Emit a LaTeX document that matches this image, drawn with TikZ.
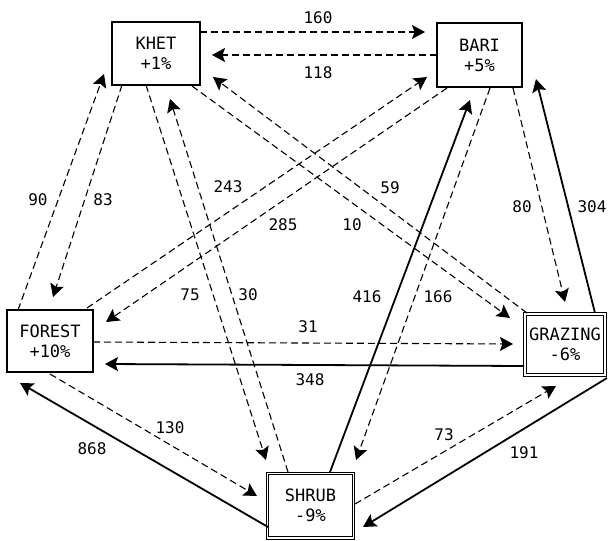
\documentclass[tikz,border=0pt]{standalone}
\usepackage{fontspec}
\newfontfamily\plotfont{DejaVu Sans Mono}
\usetikzlibrary{arrows.meta}
\tikzset{
  box/.style={draw, line width=1.5pt, rectangle, align=center, inner sep=0pt,
    font=\plotfont\fontsize{17}{20}\selectfont},
  dbox/.style={draw, double, double distance=1.6pt, line width=0.9pt, rectangle,
    align=center, inner sep=0pt, font=\plotfont\fontsize{17}{20}\selectfont},
  tip/.style={-{Stealth[length=13pt,width=14pt,inset=2.5pt]}},
  dl/.style={tip, line width=1.1pt, dash pattern=on 7pt off 4pt},
  sl/.style={tip, line width=1.8pt},
  lab/.style={inner sep=0pt, font=\plotfont\fontsize{16}{18}\selectfont}
}
\begin{document}
\begin{tikzpicture}[x=1pt,y=-1pt]
\useasboundingbox (0,0) rectangle (608,541);
% nodes
\node[box, minimum width=88pt, minimum height=63pt] (khet) at (156,53.5) {KHET\\+1\%};
\node[box, minimum width=85pt, minimum height=64pt] (bari) at (479.5,55) {BARI\\+5\%};
\node[box, minimum width=86pt, minimum height=62pt] (forest) at (50,341) {FOREST\\+10\%};
\node[dbox, minimum width=80pt, minimum height=61pt] (grazing) at (565,344.5) {GRAZING\\-6\%};
\node[dbox, minimum width=86pt, minimum height=64.5pt] (shrub) at (310.5,505.75) {SHRUB\\-9\%};
% KHET - BARI
\draw[dl] ([shift={(44,-21.5)}]khet.center) -- ([shift={(-54.5,-23)}]bari.center);
\draw[dl] ([shift={(-42.5,0)}]bari.center) -- ([shift={(56,1.5)}]khet.center);
% KHET - FOREST
\draw[dl] ([shift={(-32,-31)}]forest.center) -- ([shift={(-52,20.5)}]khet.center);
\draw[dl] ([shift={(-34,31.5)}]khet.center) -- ([shift={(3,-44)}]forest.center);
% KHET - SHRUB
\draw[dl] ([shift={(-10,31.5)}]khet.center) -- ([shift={(-44.5,-45.75)}]shrub.center);
\draw[dl] ([shift={(-22.5,-33.75)}]shrub.center) -- ([shift={(14,45.5)}]khet.center);
% KHET - GRAZING
\draw[dl] ([shift={(36,32.5)}]khet.center) -- ([shift={(-55,-26.5)}]grazing.center);
\draw[dl] ([shift={(-38,-31.5)}]grazing.center) -- ([shift={(57,23.5)}]khet.center);
% BARI - FOREST
\draw[dl] ([shift={(37,-33)}]forest.center) -- ([shift={(-52.5,22)}]bari.center);
\draw[dl] ([shift={(-32.5,33)}]bari.center) -- ([shift={(56,-19)}]forest.center);
% BARI - SHRUB
\draw[sl] ([shift={(19.5,-33.75)}]shrub.center) -- ([shift={(-9.5,45)}]bari.center);
\draw[dl] ([shift={(10.5,33)}]bari.center) -- ([shift={(45.5,-45.75)}]shrub.center);
% BARI - GRAZING
\draw[dl] ([shift={(33.5,33)}]bari.center) -- ([shift={(0,-42.5)}]grazing.center);
\draw[sl] ([shift={(30,-31.5)}]grazing.center) -- ([shift={(56.5,24)}]bari.center);
% FOREST - GRAZING
\draw[dl] ([shift={(43,1)}]forest.center) -- ([shift={(-52,-0.5)}]grazing.center);
\draw[sl] ([shift={(-41,21.5)}]grazing.center) -- ([shift={(55,23)}]forest.center);
% FOREST - SHRUB
\draw[dl] ([shift={(0,33)}]forest.center) -- ([shift={(-53.5,-9.75)}]shrub.center);
\draw[sl] ([shift={(-42.5,21.25)}]shrub.center) -- ([shift={(-30,42)}]forest.center);
% SHRUB - GRAZING
\draw[dl] ([shift={(44.5,-1.75)}]shrub.center) -- ([shift={(-9,41.5)}]grazing.center);
\draw[sl] ([shift={(42,33.5)}]grazing.center) -- ([shift={(52.5,21.25)}]shrub.center);
% labels
\node[lab] (l160) at (318,17.5) {160};
\node[lab] (l118) at (318,72.5) {118};
\node[lab] (l90) at (38,200) {90};
\node[lab] (l83) at (103,200) {83};
\node[lab] (l243) at (228,187) {243};
\node[lab] (l285) at (283,225) {285};
\node[lab] (l59) at (390,188) {59};
\node[lab] (l10) at (352,225) {10};
\node[lab] (l80) at (522,207) {80};
\node[lab] (l304) at (592,207) {304};
\node[lab] (l75) at (190,295) {75};
\node[lab] (l30) at (248,295) {30};
\node[lab] (l416) at (367,297) {416};
\node[lab] (l166) at (438,297) {166};
\node[lab] (l31) at (308,327) {31};
\node[lab] (l348) at (310,380) {348};
\node[lab] (l130) at (170,428) {130};
\node[lab] (l868) at (92,449) {868};
\node[lab] (l73) at (444,435) {73};
\node[lab] (l191) at (524,453) {191};
\end{tikzpicture}
\end{document}
